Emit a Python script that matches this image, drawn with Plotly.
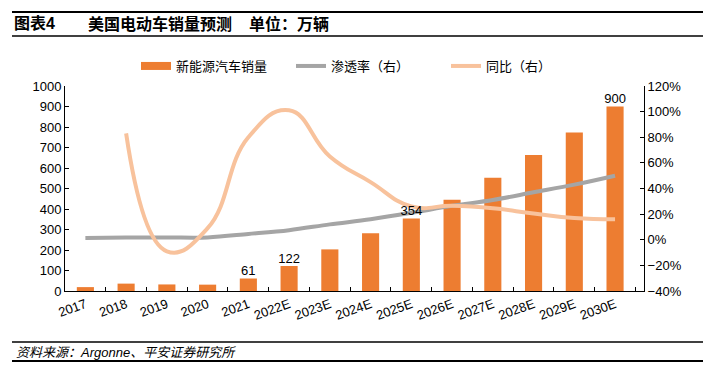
import plotly.graph_objects as go

years = ["2017", "2018", "2019", "2020", "2021", "2022E", "2023E", "2024E",
         "2025E", "2026E", "2027E", "2028E", "2029E", "2030E"]
sales = [19, 36, 32, 31, 61, 122, 203, 282, 354, 445, 553, 663, 773, 900]
penetration = [0.013, 0.017, 0.018, 0.018, 0.045, 0.075, 0.12, 0.16, 0.21,
               0.265, 0.31, 0.37, 0.43, 0.50]
yoy = [None, 0.83, -0.09, 0.09, 0.80, 1.01, 0.65, 0.45, 0.26, 0.265,
       0.245, 0.205, 0.17, 0.16]
label_years = ["2021", "2022E", "2025E", "2030E"]

FONT = "Liberation Sans, Arial, Noto Sans CJK SC"
ORANGE = "#ED7D31"
GRAY = "#A5A5A5"
LIGHT = "#F8C29C"

lab_x = [y for y in years if y in label_years]
lab_y = [v for y, v in zip(years, sales) if y in label_years]

fig = go.Figure()
fig.add_trace(go.Bar(
    x=years, y=sales, width=0.42, marker=dict(color=ORANGE, line=dict(width=0)),
    showlegend=False, name="新能源汽车销量"))
# legend proxy for the bar series (wide swatch)
fig.add_trace(go.Scatter(x=[None], y=[None], mode="lines", name="新能源汽车销量",
                         line=dict(color=ORANGE, width=8)))
fig.add_trace(go.Scatter(
    x=years, y=penetration, yaxis="y2", mode="lines", name="渗透率（右）",
    line=dict(color=GRAY, width=4, shape="spline", smoothing=1.0)))
fig.add_trace(go.Scatter(
    x=years, y=yoy, yaxis="y2", mode="lines", name="同比（右）",
    line=dict(color=LIGHT, width=4, shape="spline", smoothing=1.3)))
# data labels drawn above the lines (third overlaid axis with the sales scale)
fig.add_trace(go.Scatter(
    x=lab_x, y=lab_y, yaxis="y3", mode="text", text=[str(v) for v in lab_y],
    textposition="top center", textfont=dict(size=13, color="#000000", family=FONT),
    showlegend=False, cliponaxis=False, hoverinfo="skip"))

def py(Y):
    return (291 - Y) / 205.0

def px(X):
    return (X - 65) / 579.0

fig.update_layout(
    width=710, height=374,
    margin=dict(l=65, r=66, t=86, b=83, autoexpand=False),
    paper_bgcolor="white", plot_bgcolor="white",
    font=dict(family=FONT, size=13, color="#000000"),
    showlegend=True,
    legend=dict(orientation="h", x=px(136), xanchor="left", y=py(66), yanchor="middle",
                font=dict(size=13), itemwidth=30, tracegroupgap=0,
                entrywidth=110, entrywidthmode="pixels",
                bgcolor="rgba(0,0,0,0)"),
    xaxis=dict(type="category", showline=True, linecolor="#000000", linewidth=1,
               ticks="inside", ticklen=4, tickcolor="#000000", tickson="boundaries",
               tickangle=-20, tickfont=dict(size=13), showgrid=False, zeroline=False,
               automargin=False),
    yaxis=dict(range=[0, 1000], dtick=100, showline=True, linecolor="#000000",
               linewidth=1, ticks="inside", ticklen=4, tickcolor="#000000",
               showgrid=False, zeroline=False, tickfont=dict(size=13), automargin=False),
    yaxis2=dict(range=[-0.4, 1.2], dtick=0.2, tickformat=".0%", overlaying="y",
                side="right", showline=True, linecolor="#000000", linewidth=1,
                ticks="inside", ticklen=4, tickcolor="#000000", showgrid=False,
                zeroline=False, tickfont=dict(size=13), automargin=False),
    yaxis3=dict(range=[0, 1000], overlaying="y", visible=False, showgrid=False,
                zeroline=False),
)

# header and footer rules
for Y in [12, 36, 342, 361]:
    fig.add_shape(type="line", xref="paper", yref="paper",
                  x0=px(12), x1=px(703), y0=py(Y), y1=py(Y),
                  line=dict(color="#000000", width=2 if Y in (12, 361) else 1.5))

fig.add_annotation(xref="paper", yref="paper", x=px(12), y=py(24), xanchor="left",
                   yanchor="middle", showarrow=False, text="<b>图表4</b>",
                   font=dict(size=16, family=FONT))
fig.add_annotation(xref="paper", yref="paper", x=px(86), y=py(24), xanchor="left",
                   yanchor="middle", showarrow=False,
                   text="<b>美国电动车销量预测</b>", font=dict(size=16, family=FONT))
fig.add_annotation(xref="paper", yref="paper", x=px(247), y=py(24), xanchor="left",
                   yanchor="middle", showarrow=False,
                   text="<b>单位：万辆</b>", font=dict(size=16, family=FONT))
fig.add_annotation(xref="paper", yref="paper", x=px(14), y=py(352), xanchor="left",
                   yanchor="middle", showarrow=False,
                   text="<i>资料来源：Argonne、平安证券研究所</i>",
                   font=dict(size=13, family=FONT))

fig.write_html("out.html", config={"displayModeBar": False},
               post_script="document.body.style.margin='0';")
